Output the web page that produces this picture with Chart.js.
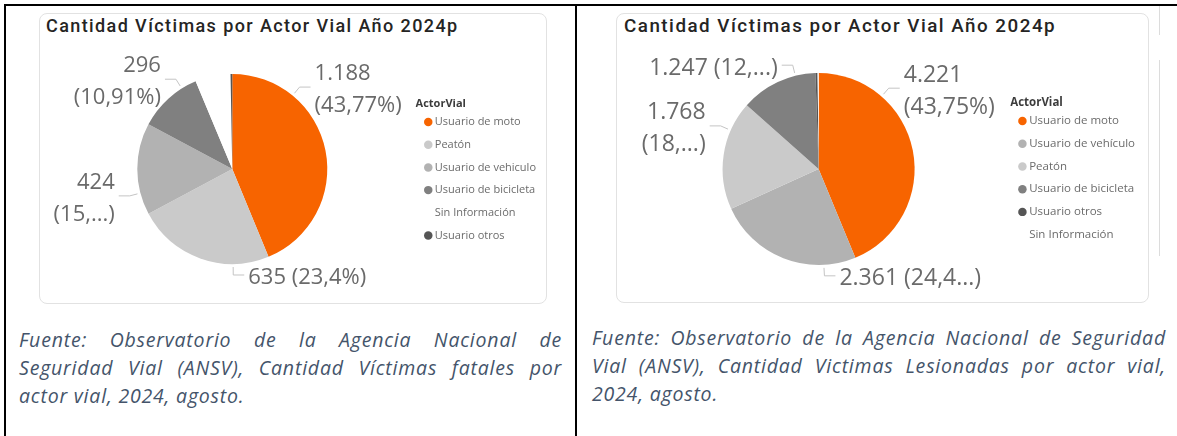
<!DOCTYPE html>
<html lang="es">
<head>
<meta charset="utf-8">
<title>Cantidad Víctimas por Actor Vial Año 2024p</title>
<script src="https://cdn.jsdelivr.net/npm/chart.js@4.4.1/dist/chart.umd.min.js"></script>
<style>
  html, body { margin: 0; padding: 0; background: #fff; }
  body { width: 1177px; height: 436px; position: relative; overflow: hidden; font-family: 'Open Sans', sans-serif; }
  .rule { position: absolute; background: #000; }
  .ghost { position: absolute; background: #dcdcdc; width: 1px; }
  .card { position: absolute; box-sizing: border-box; border: 1px solid #e2e2e2; border-radius: 8px; background: #fff; }
  .heading { position: absolute; margin: 0; font-family: Roboto, sans-serif; font-weight: 500; color: #252423; white-space: nowrap; line-height: 20px; }
  .plot { position: absolute; }
  .note { position: absolute; font-family: 'Open Sans', sans-serif; font-style: italic; font-size: 19.5px; letter-spacing: 0.8px; line-height: 28px; color: #44546A; }
  .note div { text-align: justify; text-align-last: justify; }
  .note div:last-child { text-align-last: left; }
</style>
</head>
<body>

<!-- table frame -->
<div class="rule" style="left:4px; top:4px; width:1173px; height:2px;"></div>
<div class="rule" style="left:4px; top:4px; width:2px; height:432px;"></div>
<div class="rule" style="left:575px; top:4px; width:2px; height:432px;"></div>
<div class="ghost" style="left:1159px; top:6px; height:29px;"></div>
<div class="ghost" style="left:1159px; top:60px; height:196px;"></div>

<!-- left: fatal victims -->
<div class="card" style="left:39px; top:13px; width:508px; height:291px;"></div>
<h2 class="heading" style="left:46px; top:16px; font-size:18px; letter-spacing:1.4px;">Cantidad Víctimas por Actor Vial Año 2024p</h2>
<div class="plot" style="left:39px; top:13px; width:508px; height:291px;"><canvas id="fatalChart"></canvas></div>

<!-- right: injured victims -->
<div class="card" style="left:616px; top:13px; width:533px; height:290px;"></div>
<h2 class="heading" style="left:624px; top:16px; font-size:18.8px; letter-spacing:1.5px;">Cantidad Víctimas por Actor Vial Año 2024p</h2>
<div class="plot" style="left:616px; top:13px; width:533px; height:290px;"><canvas id="injuredChart"></canvas></div>

<div class="note" style="left:19px; top:326px; width:543px;">
  <div>Fuente: Observatorio de la Agencia Nacional de</div>
  <div>Seguridad Vial (ANSV), Cantidad Víctimas fatales por</div>
  <div>actor vial, 2024, agosto.</div>
</div>
<div class="note" style="left:592px; top:324px; width:574px;">
  <div>Fuente: Observatorio de la Agencia Nacional de Seguridad</div>
  <div>Vial (ANSV), Cantidad Victimas Lesionadas por actor vial,</div>
  <div>2024, agosto.</div>
</div>

<script>
// --- data ---
const fatalActors = ['Usuario de moto', 'Peatón', 'Usuario de vehiculo', 'Usuario de bicicleta', 'Sin Información', 'Usuario otros'];
const fatalCounts = [1188, 635, 424, 296, 163, 8];
const fatalPctText = ['43,77%', '23,4%', '15,...', '10,91%', null, null];

const injuredActors = ['Usuario de moto', 'Usuario de vehículo', 'Peatón', 'Usuario de bicicleta', 'Usuario otros', 'Sin Información'];
const injuredCounts = [4221, 2361, 1768, 1247, 35, 16];
const injuredPctText = ['43,75%', '24,4...', '18,...', '12,...', null, null];

const actorColors = {
    'Usuario de moto': '#F76400',
    'Peatón': '#CACACA',
    'Usuario de vehiculo': '#B2B2B2',
    'Usuario de vehículo': '#B2B2B2',
    'Usuario de bicicleta': '#808080',
    'Usuario otros': '#555555',
    'Sin Información': '#FFFFFF'
};

Chart.defaults.font.family = "'Open Sans', sans-serif";
Chart.defaults.animation = false;

function thousands(v) {
    return String(v).replace(/\B(?=(\d{3})+(?!\d))/g, '.');
}

// Power BI style outside labels: short radial tick, then a horizontal run, then text
const sliceLabels = {
    id: 'sliceLabels',
    afterDatasetsDraw(chart, args, opts) {
        const ctx = chart.ctx;
        const meta = chart.getDatasetMeta(0);
        const values = chart.data.datasets[0].data;
        ctx.save();
        ctx.font = `${opts.size}px 'Open Sans', sans-serif`;
        ctx.fillStyle = opts.color;
        ctx.strokeStyle = opts.lineColor;
        ctx.lineWidth = 1;
        ctx.textBaseline = 'middle';
        opts.place.forEach((p, i) => {
            if (!p) return;
            const arc = meta.data[i];
            const a = arc.startAngle + p.at * (arc.endAngle - arc.startAngle);
            const cos = Math.cos(a), sin = Math.sin(a);
            const r = arc.outerRadius;
            const dir = p.side === 'left' ? -1 : 1;
            const x0 = arc.x + cos * (r + opts.gap), y0 = arc.y + sin * (r + opts.gap);
            const x1 = arc.x + cos * (r + opts.elbow), y1 = arc.y + sin * (r + opts.elbow);
            const x2 = x1 + dir * opts.tail;
            ctx.beginPath();
            ctx.moveTo(x0, y0);
            ctx.lineTo(x1, y1);
            ctx.lineTo(x2, y1);
            ctx.stroke();

            const num = thousands(values[i]);
            const lines = p.split ? [num, `(${opts.pct[i]})`] : [`${num} (${opts.pct[i]})`];
            ctx.textAlign = dir < 0 ? 'right' : 'left';
            lines.forEach((t, k) => {
                const y = y1 + opts.shift + (k - (lines.length - 1) / 2) * opts.lineHeight;
                ctx.fillText(t, x2 + dir * 4, y);
            });
        });
        ctx.restore();
    }
};

function buildPie(id, actors, counts, pctText, place, look) {
    return new Chart(document.getElementById(id), {
        type: 'pie',
        data: {
            labels: actors,
            datasets: [{
                data: counts,
                backgroundColor: actors.map(a => actorColors[a]),
                borderWidth: 0,
                hoverOffset: 0
            }]
        },
        options: {
            responsive: true,
            maintainAspectRatio: false,
            events: [],
            layout: { padding: look.pad },
            plugins: {
                tooltip: { enabled: false },
                legend: {
                    position: 'right',
                    align: 'start',
                    title: {
                        display: true,
                        text: 'ActorVial',
                        position: 'start',
                        color: '#3c3c3c',
                        font: { size: look.legendSize, weight: 'bold', lineHeight: 0.62 },
                        padding: { top: 24, bottom: 0 }
                    },
                    labels: {
                        usePointStyle: true,
                        pointStyle: 'circle',
                        boxWidth: 2,
                        boxHeight: 6,
                        padding: look.rowGap,
                        color: '#6b6b6b',
                        font: { size: look.legendSize }
                    }
                },
                sliceLabels: {
                    pct: pctText,
                    place: place,
                    size: look.labelSize,
                    color: '#6a6a6a',
                    lineColor: '#c4c4c4',
                    gap: 3,
                    elbow: 11,
                    tail: 11,
                    lineHeight: 32,
                    shift: 3
                }
            }
        },
        plugins: [sliceLabels]
    });
}

buildPie('fatalChart', fatalActors, fatalCounts, fatalPctText, [
    { at: 0.25, side: 'right', split: true },
    { at: 0.26, side: 'right', split: false },
    { at: 0.24, side: 'left', split: true },
    { at: 0.76, side: 'left', split: true },
    null,
    null
], { pad: { top: 61, bottom: 40, left: 10, right: 1 }, legendSize: 11, rowGap: 11.7, labelSize: 22 });

buildPie('injuredChart', injuredActors, injuredCounts, injuredPctText, [
    { at: 0.26, side: 'right', split: true },
    { at: 0.22, side: 'right', split: false },
    { at: 0.73, side: 'left', split: true },
    { at: 0.74, side: 'left', split: false },
    null,
    null
], { pad: { top: 60, bottom: 38, left: 11, right: 4 }, legendSize: 11.5, rowGap: 11.2, labelSize: 23 });
</script>
</body>
</html>
